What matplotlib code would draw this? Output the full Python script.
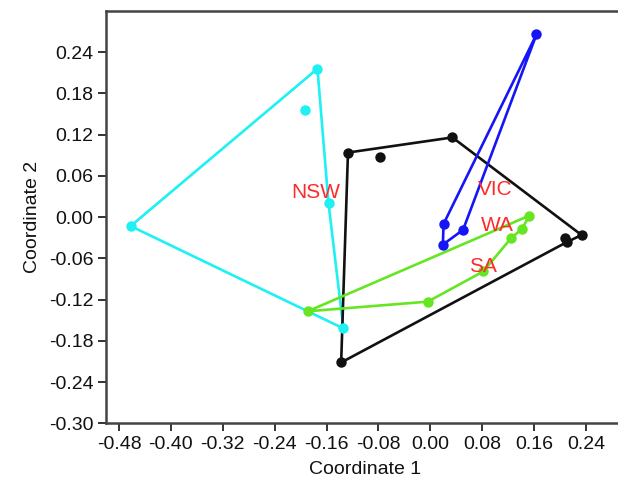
import matplotlib
matplotlib.use("Agg")
import matplotlib.pyplot as plt
import numpy as np

plt.rcParams['font.family'] = ['Liberation Sans', 'DejaVu Sans']
plt.rcParams['axes.unicode_minus'] = False

# Group data: points (Coordinate 1, Coordinate 2) and convex hull order
nsw_x = [-0.174, -0.1925, -0.157, -0.462, -0.134]
nsw_y = [0.216, 0.156, 0.020, -0.013, -0.162]
nsw_hull = [3, 0, 2, 4, 3]

other_x = [-0.127, -0.078, 0.034, 0.233, 0.207, 0.210, -0.1375]
other_y = [0.094, 0.088, 0.116, -0.026, -0.031, -0.0365, -0.2115]
other_hull = [0, 2, 3, 5, 6, 0]

vic_x = [0.1636, 0.0203, 0.0504, 0.0193]
vic_y = [0.266, -0.010, -0.0185, -0.040]
vic_hull = [0, 1, 3, 2, 0]

sawa_x = [0.1527, 0.1412, 0.1241, 0.0816, -0.004, -0.189]
sawa_y = [0.0023, -0.017, -0.031, -0.079, -0.123, -0.137]
sawa_hull = [5, 0, 1, 2, 3, 4, 5]

label_text = ["NSW", "VIC", "WA", "SA"]
label_x = [-0.177, 0.100, 0.1034, 0.0816]
label_y = [0.036, 0.040, -0.0127, -0.072]

xticks = [-0.48, -0.40, -0.32, -0.24, -0.16, -0.08, 0.00, 0.08, 0.16, 0.24]
yticks = [0.24, 0.18, 0.12, 0.06, 0.00, -0.06, -0.12, -0.18, -0.24, -0.30]

fig = plt.figure(figsize=(6.18, 4.93), dpi=100)
ax = fig.add_axes([0.1715, 0.1414, 0.8398, 0.8363])

groups = [
    (nsw_x, nsw_y, nsw_hull, '#1ef0f4'),
    (other_x, other_y, other_hull, '#111111'),
    (vic_x, vic_y, vic_hull, '#1515f5'),
    (sawa_x, sawa_y, sawa_hull, '#66e622'),
]
for gx, gy, hull, col in groups:
    hx = [gx[i] for i in hull]
    hy = [gy[i] for i in hull]
    ax.plot(hx, hy, color=col, lw=1.9, solid_joinstyle='round', zorder=2)
    ax.plot(gx, gy, 'o', color=col, ms=7.5, mec='none', zorder=3)

for t, x, y in zip(label_text, label_x, label_y):
    ax.text(x, y, t, color='#ff2a2a', fontsize=15, ha='center', va='center', zorder=4)

ax.set_xlim(-0.50, 0.30)
ax.set_ylim(-0.30, 0.30)
ax.set_xticks(xticks)
ax.set_yticks(yticks)
ax.set_xticklabels([f"{v:.2f}" for v in xticks])
ax.set_yticklabels([f"{v:.2f}" for v in yticks])
ax.tick_params(direction='out', length=6, width=1.4, color='#333333',
               labelsize=14, pad=3, labelcolor='#111111')
for s in ax.spines.values():
    s.set_linewidth(1.8)
    s.set_color('#444444')

ax.set_xlabel("Coordinate 1", fontsize=14, color='#111111', labelpad=6)
ax.set_ylabel("Coordinate 2", fontsize=14, color='#111111', labelpad=6)

fig.savefig("out.png", dpi=100)
